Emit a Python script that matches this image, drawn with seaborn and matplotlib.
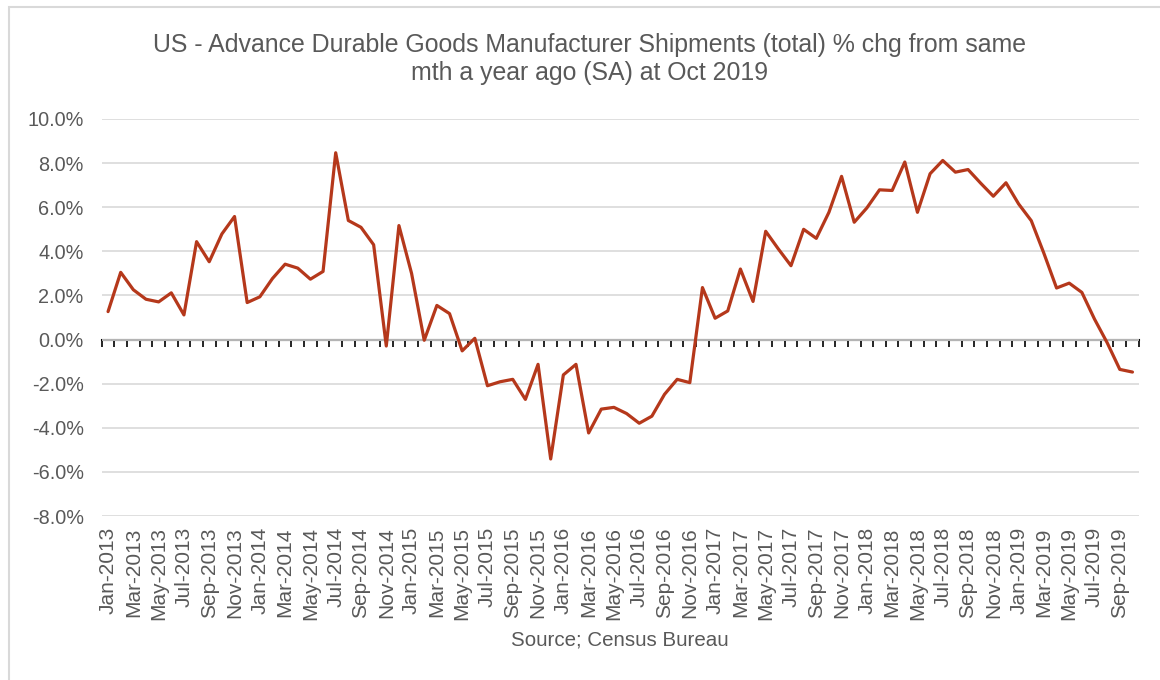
import numpy as np
import pandas as pd
import matplotlib
matplotlib.use("Agg")
import matplotlib.pyplot as plt
from matplotlib.patches import Rectangle
import seaborn as sns

# Year-on-year % change in durable goods shipments, Jan-2013 .. Oct-2019
months = pd.date_range("2013-01-01", "2019-10-01", freq="MS")
pct_change = [
    1.27, 3.05, 2.26, 1.83, 1.71, 2.12, 1.12, 4.44, 3.53, 4.79, 5.58, 1.68,
    1.94, 2.77, 3.42, 3.24, 2.74, 3.09, 8.47, 5.40, 5.09, 4.30, -0.29, 5.17,
    3.00, -0.03, 1.55, 1.18, -0.51, 0.06, -2.09, -1.91, -1.80, -2.71, -1.12, -5.41,
    -1.60, -1.12, -4.23, -3.15, -3.07, -3.35, -3.79, -3.47, -2.48, -1.80, -1.95, 2.36,
    0.97, 1.30, 3.20, 1.73, 4.91, 4.11, 3.35, 5.00, 4.59, 5.77, 7.40, 5.32,
    5.97, 6.79, 6.76, 8.05, 5.77, 7.52, 8.12, 7.59, 7.71, 7.09, 6.50, 7.11,
    6.15, 5.39, 3.91, 2.34, 2.56, 2.14, 0.93, -0.14, -1.35, -1.47,
]
month_labels = [m.strftime("%b-%Y") for m in months]
y_ticks = [-8, -6, -4, -2, 0, 2, 4, 6, 8, 10]

title_text = ("US - Advance Durable Goods Manufacturer Shipments (total) % chg from same\n"
              "mth a year ago (SA) at Oct 2019")
source_text = "Source; Census Bureau"

df = pd.DataFrame({"pos": np.arange(len(pct_change)), "pct": pct_change})

sns.set_theme(style="white")
plt.rcParams["font.family"] = ["Liberation Sans", "DejaVu Sans"]
text_grey = "#595959"

fig = plt.figure(figsize=(11.6, 6.8), dpi=100)
ax = fig.add_axes([0.0877, 0.241, 0.894, 0.584])

sns.lineplot(data=df, x="pos", y="pct", ax=ax, color="#B5381B", linewidth=2.3)

n = len(pct_change)
ax.set_xlim(-0.5, n - 0.5)
ax.set_ylim(-8, 10)
ax.set_yticks(y_ticks)
ax.set_yticklabels([f"{v:.1f}%" for v in y_ticks])
ax.yaxis.grid(True, color="#D9D9D9", linewidth=1.2)
ax.xaxis.grid(False)
for s in ax.spines.values():
    s.set_visible(False)

ax.set_xticks(df["pos"][::2])
ax.set_xticklabels(month_labels[::2], rotation=90)
ax.tick_params(axis="x", length=0, pad=8, labelsize=15, labelcolor=text_grey)
ax.tick_params(axis="y", length=0, pad=13, labelsize=14.3, labelcolor=text_grey)
ax.set_xlabel("")
ax.set_ylabel("")

# category axis crossing at zero, with a tick at every month boundary
zero_frac = (0 - (-8)) / (10 - (-8))
sec = ax.secondary_xaxis(zero_frac)
sec.set_xticks(np.arange(n + 1) - 0.5)
sec.set_xticklabels([])
sec.tick_params(axis="x", direction="out", length=5, width=1.2, color="#000000")
sec.spines["bottom"].set_color("#000000")
sec.spines["bottom"].set_linewidth(1.5)

fig.text(0.508, 0.913, title_text, ha="center", va="center", fontsize=17.9,
         color=text_grey, linespacing=1.24)
fig.text(0.534, 0.059, source_text, ha="center", va="center", fontsize=14.8,
         color=text_grey)

fig.patches.append(Rectangle((9 / 1160, -0.05), 1.1, 1.05 - 7 / 680,
                             transform=fig.transFigure, fill=False,
                             edgecolor="#D9D9D9", linewidth=1.5))

fig.savefig("out.png", dpi=100, facecolor="white")
